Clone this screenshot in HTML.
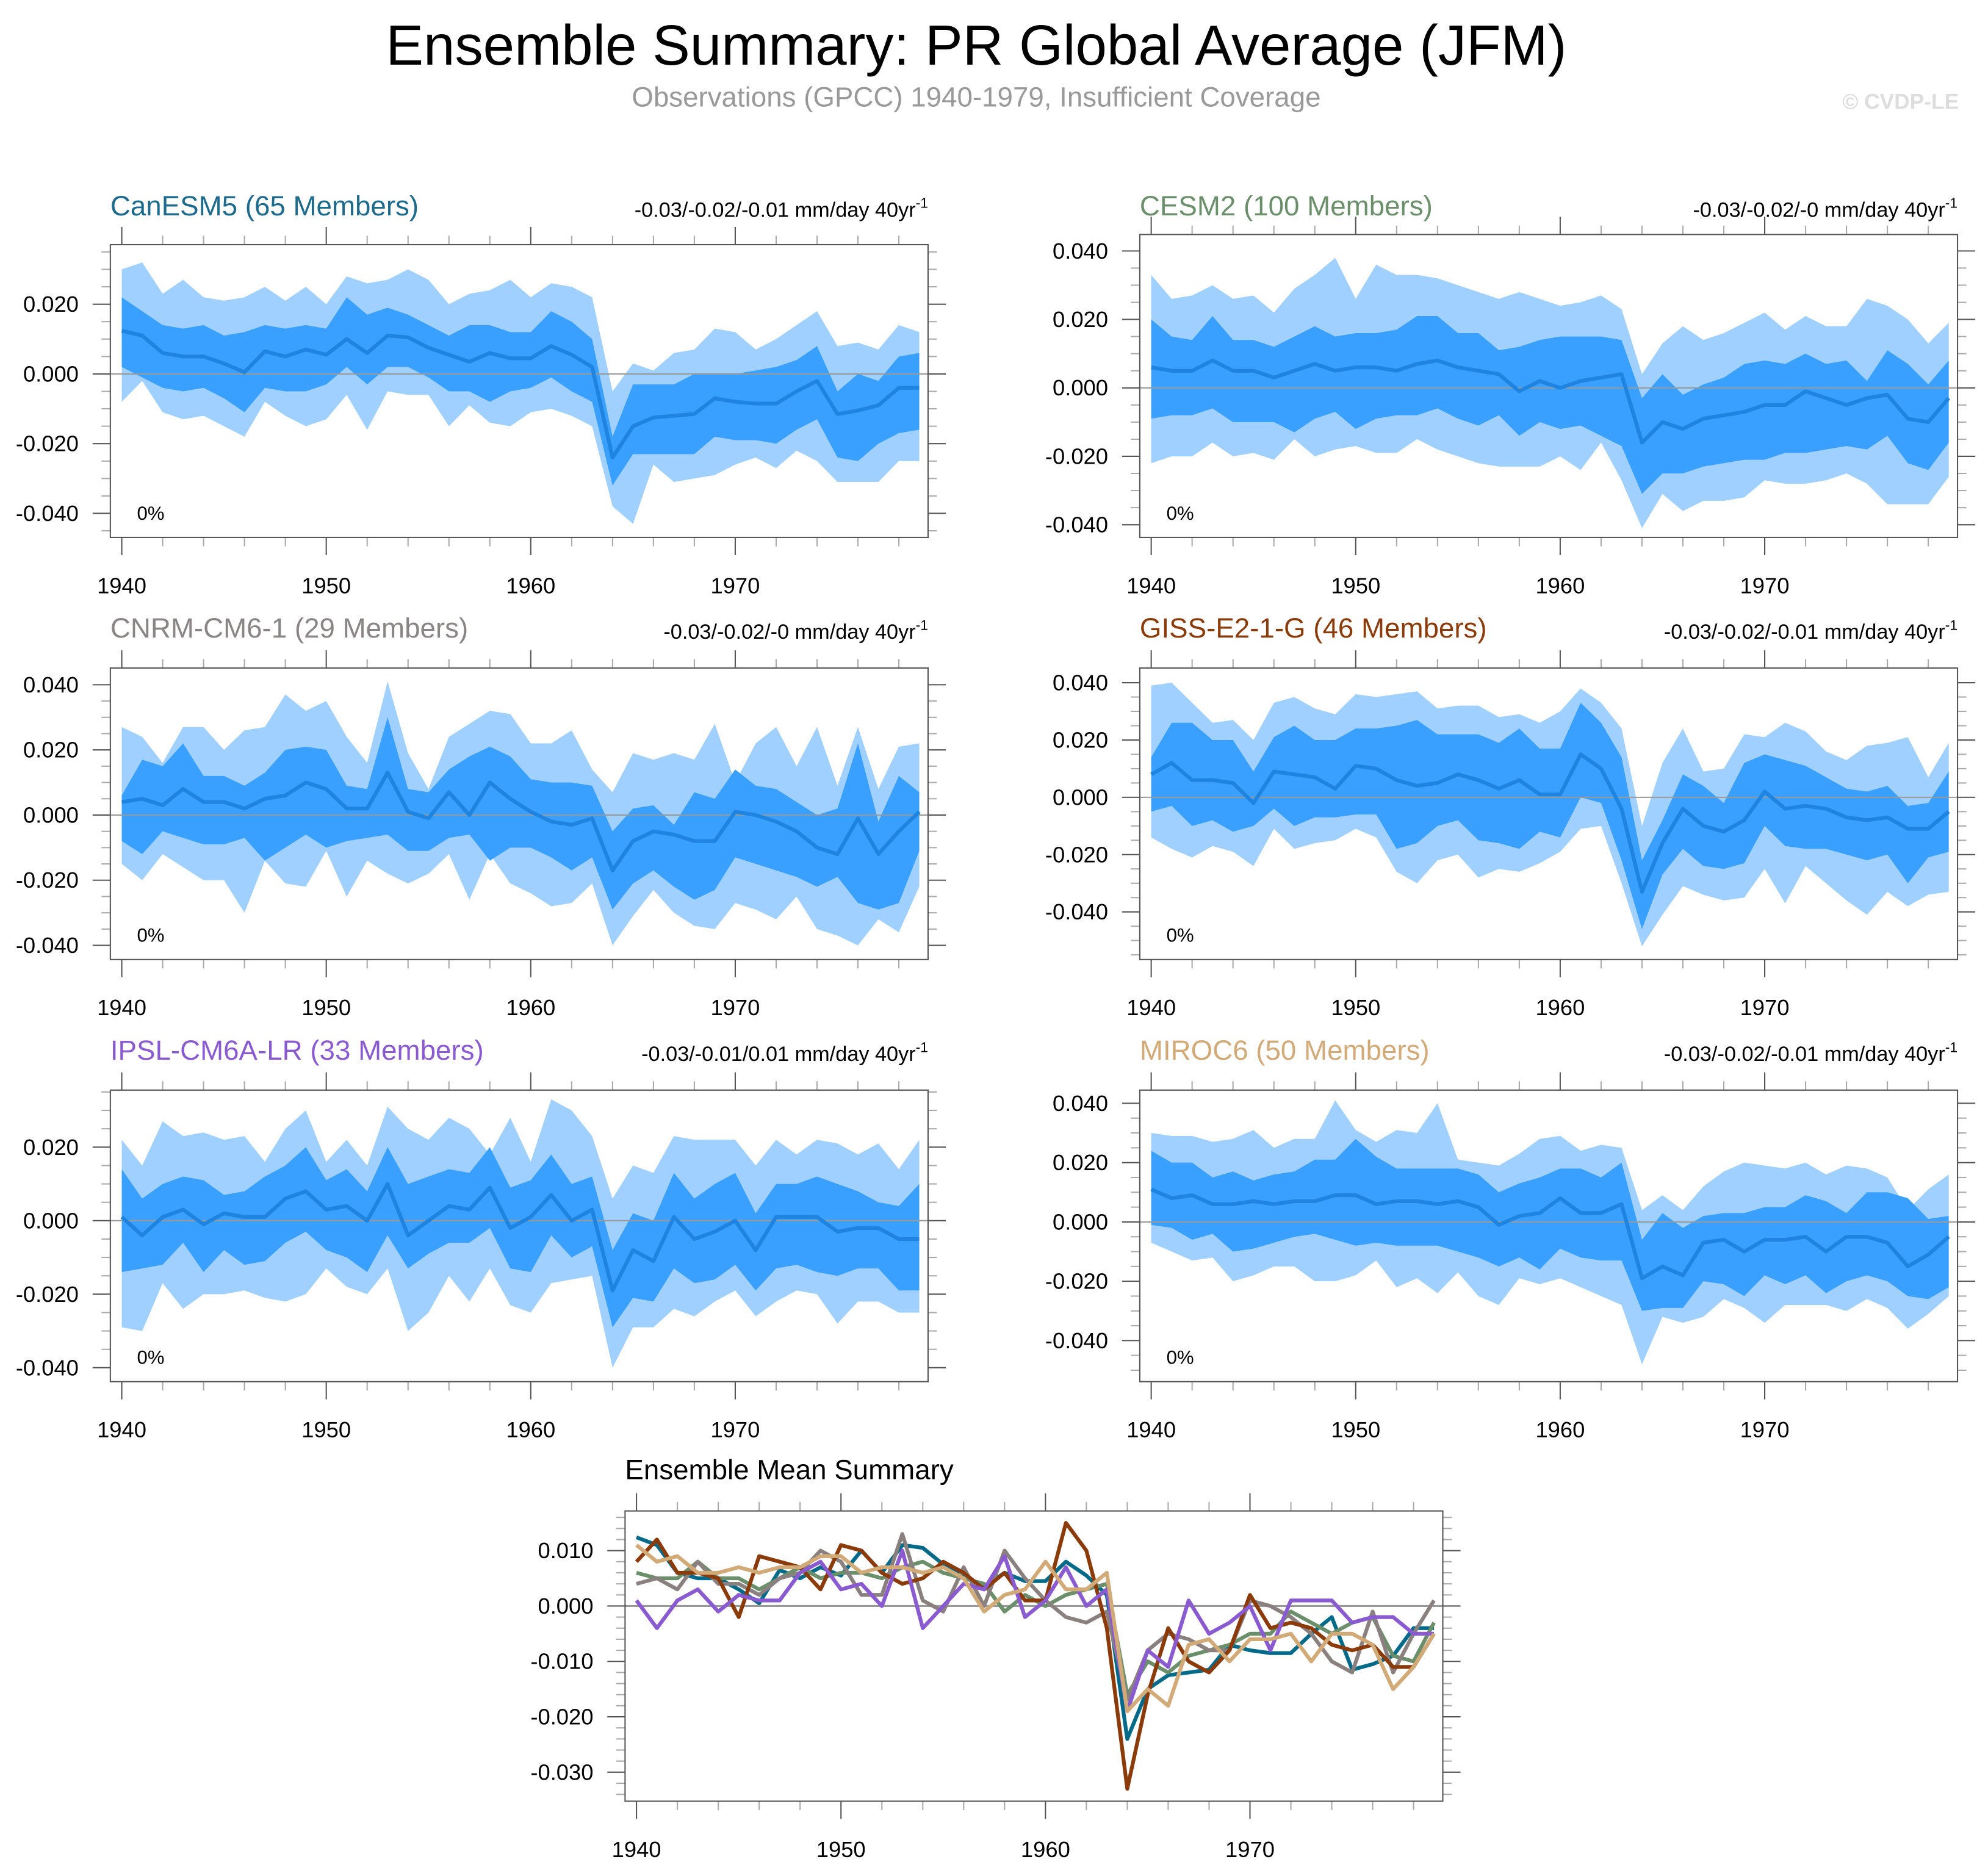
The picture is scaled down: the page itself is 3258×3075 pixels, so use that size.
<!DOCTYPE html>
<html><head><meta charset="utf-8"><style>
html,body{margin:0;padding:0;background:#fff;}
svg{display:block;font-family:"Liberation Sans",sans-serif;}
</style></head><body>
<svg id="fig" width="3258" height="3075" viewBox="0 0 1568 1480" xmlns="http://www.w3.org/2000/svg">
<text x="770" y="51" font-size="44.5" text-anchor="middle" fill="#000">Ensemble Summary: PR Global Average (JFM)</text>
<text x="770" y="84" font-size="22" text-anchor="middle" fill="#999">Observations (GPCC) 1940-1979, Insufficient Coverage</text>
<text x="1545" y="86" font-size="17" font-weight="bold" text-anchor="end" fill="#ddd">© CVDP-LE</text>
</svg>
<script>
const years = [1940,1941,1942,1943,1944,1945,1946,1947,1948,1949,1950,1951,1952,1953,1954,1955,1956,1957,1958,1959,1960,1961,1962,1963,1964,1965,1966,1967,1968,1969,1970,1971,1972,1973,1974,1975,1976,1977,1978,1979];
const xTickYears = [1940,1950,1960,1970];
// values in units of 0.001 mm/day
const canMean = [12.4,11,6,5,5,3,0.5,6.5,5,7,5.5,10,6,11,10.5,7.5,5.5,3.5,6,4.5,4.5,8,5.5,2,-24,-15,-12.5,-12,-11.5,-7,-8,-8.5,-8.5,-5,-2,-11.5,-10.5,-9,-4,-4];
const canDarkHi = [22,18,14,13,14,11,12,14,13,14,13,22,17,19,17,14,11,14,14,12,12,18,15,10,-18,-3,-3,-3,0,0,0,1,2,4,8,-5,0,-2,5,6];
const canDarkLo = [2,-1,-4,-5,-4,-7,-11,-4,-5,-5,-3,2,-3,2,2,-1,-5,-5,-8,-5,-4,-1,-5,-8,-32,-23,-23,-23,-23,-18,-19,-19,-20,-16,-13,-24,-25,-20,-17,-16];
const canLightHi = [30,32,23,27,22,21,22,25,21,25,20,28,26,27,30,27,20,23,24,27,22,26,25,22,-5,3,1,6,7,13,12,7,10,14,18,8,9,7,14,12];
const canLightLo = [-8,-2,-11,-13,-12,-15,-18,-8,-12,-15,-13,-6,-16,-5,-6,-6,-15,-9,-14,-15,-11,-10,-12,-15,-38,-43,-26,-31,-30,-29,-26,-24,-27,-22,-25,-31,-31,-31,-25,-25];

const cesmMean = [6,5,5,8,5,5,3,5,7,5,6,6,5,7,8,6,5,4,-1,2,0,2,3,4,-16,-10,-12,-9,-8,-7,-5,-5,-1,-3,-5,-3,-2,-9,-10,-3];
const cesmDarkHi = [20,15,14,21,14,14,12,15,18,15,16,16,17,21,21,16,16,11,12,14,15,15,15,14,-3,4,-2,1,3,7,8,7,10,7,8,2,11,7,1,8];
const cesmDarkLo = [-9,-8,-8,-6,-10,-10,-10,-13,-9,-7,-12,-9,-8,-8,-6,-9,-11,-8,-14,-10,-12,-11,-14,-17,-31,-25,-25,-23,-22,-21,-21,-19,-19,-18,-17,-18,-14,-22,-24,-16];
const cesmLightHi = [33,26,27,30,26,27,22,29,33,38,26,36,33,33,32,30,28,26,28,26,24,25,27,23,4,13,18,14,16,19,22,17,21,18,18,26,24,20,13,19];
const cesmLightLo = [-22,-20,-20,-16,-20,-19,-21,-15,-20,-18,-17,-19,-19,-15,-18,-20,-22,-23,-23,-23,-20,-24,-16,-27,-41,-31,-36,-33,-33,-32,-27,-28,-28,-27,-25,-28,-34,-34,-34,-26];

const cnrmMean = [4,5,3,8,4,4,2,5,6,10,8,2,2,13,1,-1,7,0,10,5,1,-2,-3,-1,-17,-8,-5,-6,-8,-8,1,0,-2,-5,-10,-12,-1,-12,-5,1];
const cnrmDarkHi = [6,17,15,22,12,12,9,13,20,21,20,9,8,30,8,7,14,18,21,18,11,10,10,9,-5,2,3,-3,7,5,14,9,8,4,0,2,22,-2,12,7];
const cnrmDarkLo = [-8,-12,-5,-7,-9,-9,-7,-14,-10,-6,-10,-8,-7,-6,-11,-11,-7,-6,-14,-10,-10,-13,-17,-13,-29,-21,-17,-22,-26,-23,-13,-15,-17,-19,-22,-19,-27,-29,-27,-11];
const cnrmLightHi = [27,24,16,27,27,20,26,27,37,32,35,24,16,41,19,8,24,28,32,31,22,22,26,14,7,19,17,19,17,28,10,22,27,15,27,9,27,8,21,22];
const cnrmLightLo = [-15,-20,-12,-16,-20,-20,-30,-14,-21,-22,-11,-25,-14,-18,-21,-18,-12,-26,-12,-21,-24,-28,-27,-21,-40,-31,-23,-30,-34,-35,-27,-29,-32,-25,-35,-37,-40,-32,-36,-22];

const gissMean = [8,12,6,6,5,-2,9,8,7,3,11,10,6,4,5,8,6,3,6,1,1,15,10,-4,-33,-16,-4,-10,-12,-8,2,-4,-3,-4,-7,-8,-7,-11,-11,-5];
const gissDarkHi = [14,26,26,20,20,9,21,25,20,20,24,24,25,27,22,22,22,19,24,17,17,33,26,14,-22,-8,8,4,-2,12,15,13,11,7,3,2,4,-3,-2,9];
const gissDarkLo = [-5,-3,-10,-8,-12,-10,-4,-10,-7,-7,-6,-6,-18,-16,-10,-8,-15,-16,-18,-12,-14,0,-2,-22,-46,-27,-18,-24,-25,-23,-10,-17,-18,-18,-20,-22,-20,-30,-21,-19];
const gissLightHi = [39,40,33,26,27,20,33,35,31,29,36,35,36,37,31,32,32,28,29,26,30,38,33,24,-10,12,24,9,10,22,21,26,23,16,13,18,19,21,7,19];
const gissLightLo = [-14,-18,-21,-17,-19,-24,-11,-18,-16,-15,-11,-14,-26,-30,-22,-20,-28,-25,-26,-23,-19,-11,-10,-30,-52,-41,-31,-34,-36,-35,-25,-37,-24,-30,-36,-41,-33,-38,-34,-33];

const ipslMean = [1,-4,1,3,-1,2,1,1,6,8,3,4,0,10,-4,0,4,3,9,-2,1,7,0,3,-19,-8,-11,1,-5,-3,0,-8,1,1,1,-3,-2,-2,-5,-5];
const ipslDarkHi = [14,6,10,12,11,7,8,12,15,20,11,14,8,20,10,12,14,13,20,9,11,18,10,12,-8,2,0,13,6,10,13,2,10,10,12,10,8,5,4,10];
const ipslDarkLo = [-14,-13,-12,-6,-14,-8,-12,-11,-6,-3,-8,-10,-14,-4,-13,-9,-6,-6,-2,-13,-14,-4,-10,-7,-29,-21,-22,-13,-17,-16,-12,-19,-13,-12,-14,-15,-13,-13,-19,-19];
const ipslLightHi = [22,15,27,23,24,22,23,16,25,30,16,22,15,31,25,22,28,25,18,28,16,33,30,23,6,15,13,23,22,22,22,15,22,18,22,21,18,21,14,22];
const ipslLightLo = [-29,-30,-17,-24,-20,-20,-19,-21,-22,-20,-13,-18,-20,-13,-30,-25,-15,-22,-13,-23,-25,-17,-16,-15,-40,-29,-29,-24,-26,-22,-19,-26,-22,-19,-20,-28,-22,-22,-25,-25];

const mirocMean = [11,8,9,6,6,7,6,7,7,9,9,6,7,7,6,7,5,-1,2,3,8,3,3,6,-19,-15,-18,-7,-6,-10,-6,-6,-5,-10,-5,-5,-7,-15,-11,-5];
const mirocDarkHi = [24,20,20,15,17,14,16,17,21,21,28,22,18,18,18,18,16,10,13,15,18,18,15,20,-6,3,-2,2,3,3,5,5,9,7,3,10,10,8,1,2];
const mirocDarkLo = [-1,-2,-6,-4,-10,-9,-7,-5,-4,-6,-8,-7,-8,-8,-8,-10,-12,-15,-12,-16,-9,-12,-13,-13,-30,-29,-29,-20,-21,-25,-18,-21,-18,-24,-20,-18,-20,-25,-26,-22];
const mirocLightHi = [30,29,29,27,28,31,25,28,28,41,31,27,31,30,40,21,20,19,23,28,29,24,26,25,4,9,4,12,17,20,19,18,20,16,19,18,15,4,11,16];
const mirocLightLo = [-7,-10,-13,-12,-20,-18,-15,-15,-20,-20,-18,-13,-22,-19,-24,-17,-25,-28,-19,-21,-19,-22,-25,-28,-48,-32,-34,-32,-26,-29,-34,-28,-28,-28,-30,-26,-29,-36,-31,-25];

const modelNames = ["CanESM5 (65 Members)","CESM2 (100 Members)","CNRM-CM6-1 (29 Members)","GISS-E2-1-G (46 Members)","IPSL-CM6A-LR (33 Members)","MIROC6 (50 Members)"];
const trendLabels = ["-0.03/-0.02/-0.01 mm/day 40yr","-0.03/-0.02/-0 mm/day 40yr","-0.03/-0.02/-0 mm/day 40yr","-0.03/-0.02/-0.01 mm/day 40yr","-0.03/-0.01/0.01 mm/day 40yr","-0.03/-0.02/-0.01 mm/day 40yr"];
const yTickLabels1 = [20,0,-20,-40];
const yTickLabels2 = [40,20,0,-20,-40];
const yTickLabelsMean = [10,0,-10,-20,-30];

const NS = "http://www.w3.org/2000/svg";
const svg = document.getElementById("fig");
function mk(tag, attrs, parent){
  const e = document.createElementNS(NS, tag);
  for (const k in attrs) e.setAttribute(k, attrs[k]);
  (parent||svg).appendChild(e);
  return e;
}
function fmt(v){ return (v/1000).toFixed(3); }

function drawAxes(g, box, xOf, yOf, ticks, minorStep){
  const [x0,y0,x1,y1] = box;
  for (let v=-80; v<=80; v+=minorStep){
    const y = yOf(v);
    if (y < y0+1 || y > y1-1) continue;
    const major = ticks.includes(v);
    const len = major ? 14 : 7;
    const t1 = mk("line",{x1:x0-len,y1:y,x2:x0,y2:y,stroke:major?"#555":"#aaa","stroke-width":1},g);
    
    
    const t2 = mk("line",{x1:x1,y1:y,x2:x1+len,y2:y,stroke:major?"#555":"#aaa","stroke-width":1},g);
    
    
  }
  ticks.forEach(v=>{
    const t = mk("text",{x:x0-25,y:yOf(v)+6,"font-size":17.5,"text-anchor":"end",fill:"#000"},g);
    t.textContent = fmt(v);
    
    
  });
  for (let yr=1940; yr<=1979; yr+=2){
    const x = xOf(yr);
    const major = xTickYears.includes(yr);
    const len = major ? 14 : 7;
    const b = mk("line",{x1:x,y1:y1,x2:x,y2:y1+len,stroke:major?"#555":"#aaa","stroke-width":1},g);
    
    
    const tp = mk("line",{x1:x,y1:y0-len,x2:x,y2:y0,stroke:major?"#555":"#aaa","stroke-width":1},g);
    
    
  }
  xTickYears.forEach(yr=>{
    const t = mk("text",{x:xOf(yr),y:y1+44,"font-size":17.5,"text-anchor":"middle",fill:"#000"},g);
    t.textContent = yr;
    
    
  });
  const f = mk("rect",{x:x0,y:y0,width:x1-x0,height:y1-y0,fill:"none",stroke:"#555","stroke-width":1},g);
  
  
}

function bandPath(xOf, yOf, hi, lo){
  let d = "";
  years.forEach((yr,i)=>{ d += (i?"L":"M") + xOf(yr).toFixed(2) + "," + yOf(hi[i]).toFixed(2); });
  for (let i=years.length-1;i>=0;i--) d += "L" + xOf(years[i]).toFixed(2) + "," + yOf(lo[i]).toFixed(2);
  return d + "Z";
}
function linePath(xOf, yOf, arr){
  let d = "";
  years.forEach((yr,i)=>{ d += (i?"L":"M") + xOf(yr).toFixed(2) + "," + yOf(arr[i]).toFixed(2); });
  return d;
}

const panels = [
  {box:[87,193,732,424], zero:295, px:2.75, ticks:yTickLabels1, color:"#1d6a8c", ty:170, data:[canMean,canDarkHi,canDarkLo,canLightHi,canLightLo]},
  {box:[899,185,1544,424], zero:306, px:2.7, ticks:yTickLabels2, color:"#6a8f6a", ty:170, data:[cesmMean,cesmDarkHi,cesmDarkLo,cesmLightHi,cesmLightLo]},
  {box:[87,527,732,757], zero:643, px:2.57, ticks:yTickLabels2, color:"#8a8585", ty:503, data:[cnrmMean,cnrmDarkHi,cnrmDarkLo,cnrmLightHi,cnrmLightLo]},
  {box:[899,527,1544,757], zero:629, px:2.26, ticks:yTickLabels2, color:"#8b3a0a", ty:503, data:[gissMean,gissDarkHi,gissDarkLo,gissLightHi,gissLightLo]},
  {box:[87,860,732,1090], zero:963, px:2.9, ticks:yTickLabels1, color:"#8a5ad0", ty:836, data:[ipslMean,ipslDarkHi,ipslDarkLo,ipslLightHi,ipslLightLo]},
  {box:[899,860,1544,1090], zero:964, px:2.34, ticks:yTickLabels2, color:"#d2aa78", ty:836, data:[mirocMean,mirocDarkHi,mirocDarkLo,mirocLightHi,mirocLightLo]}
];

panels.forEach((p,k)=>{
  const g = mk("g",{});
  
  
  const [x0,y0,x1,y1] = p.box;
  const xOf = yr => x0 + 9 + (yr-1940)*16.13;
  const yOf = v => p.zero - v*p.px;
  const [mean,dHi,dLo,lHi,lLo] = p.data;
  const lb = mk("path",{d:bandPath(xOf,yOf,lHi,lLo),fill:"#9fd0ff"},g);
  
  
  const db = mk("path",{d:bandPath(xOf,yOf,dHi,dLo),fill:"#39a0ff"},g);
  
  
  const zl = mk("line",{x1:x0,y1:yOf(0),x2:x1,y2:yOf(0),stroke:"#999","stroke-width":1},g);
  
  
  const ml = mk("path",{d:linePath(xOf,yOf,mean),fill:"none",stroke:"#1f84e0","stroke-width":3,"stroke-linejoin":"round"},g);
  
  
  drawAxes(g,p.box,xOf,yOf,p.ticks,5);
  const title = mk("text",{x:x0,y:p.ty,"font-size":22,fill:p.color},g);
  title.textContent = modelNames[k];
  
  
  const tr = mk("text",{x:x1,y:p.ty+1,"font-size":16.5,"text-anchor":"end",fill:"#000"},g);
  tr.textContent = trendLabels[k];
  const sup = mk("tspan",{dy:-7,"font-size":11},tr);
  sup.textContent = "-1";
  
  
  const pc = mk("text",{x:x0+21,y:y1-14,"font-size":15,fill:"#000"},g);
  pc.textContent = "0%";
  
  
});

const mg = mk("g",{});


const mbox = [493,1192,1138,1421];
const mxOf = yr => 502 + (yr-1940)*16.13;
const myOf = v => 1267 - v*4.37;
const mz = mk("line",{x1:mbox[0],y1:myOf(0),x2:mbox[2],y2:myOf(0),stroke:"#999","stroke-width":1.5},mg);


panels.forEach((p,k)=>{
  const l = mk("path",{d:linePath(mxOf,myOf,p.data[0]),fill:"none",stroke:p.color==="#8a8585"?"#8a8080":(k==0?"#006a88":p.color),"stroke-width":3,"stroke-linejoin":"round"},mg);
  
  
});
drawAxes(mg,mbox,mxOf,myOf,yTickLabelsMean,2);
const mt = mk("text",{x:493,y:1167,"font-size":22,fill:"#000"},mg);
mt.textContent = "Ensemble Mean Summary";


</script>
</body></html>
